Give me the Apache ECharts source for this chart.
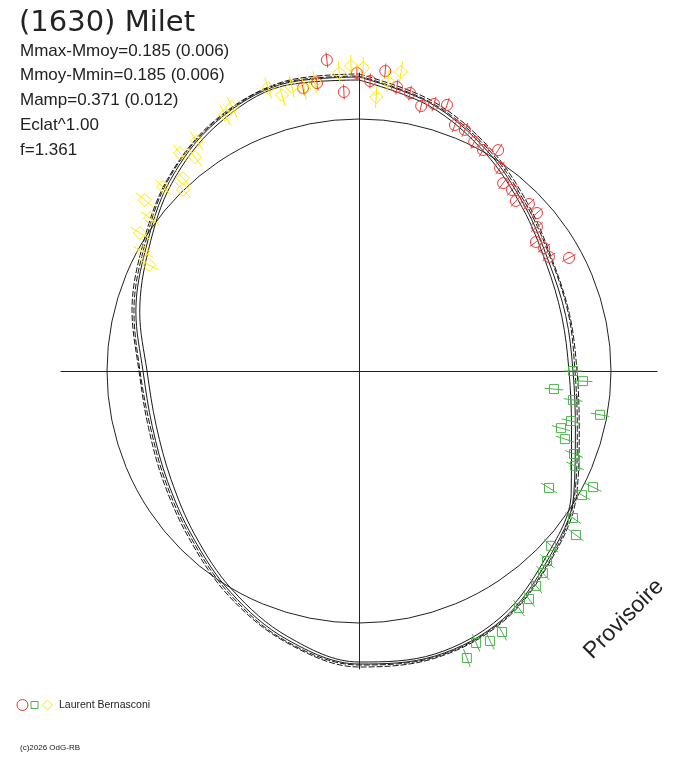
<!DOCTYPE html>
<html>
<head>
<meta charset="utf-8">
<title>(1630) Milet</title>
<script src="https://cdn.jsdelivr.net/npm/echarts@6.0.0/dist/echarts.min.js"></script>
<style>
	html, body { margin: 0; padding: 0; background: #fff; }
	#main { width: 688px; height: 768px; }
</style>
</head>
<body>
<div id="main"></div>
<script>
// angles in degrees, clockwise from the top (phase * 360)
const fitAngles = [0, 15, 30, 45, 60, 75, 90, 105, 120, 135, 150, 165, 180, 195, 210, 225, 240, 255, 270, 285, 300, 315, 330, 345]
// fitted curves, radius for each angle
const fitA = [294, 277, 255, 234, 219, 214, 214, 224, 248, 267, 287, 295, 293, 278, 256, 235, 221, 214, 216, 231, 246, 268, 287, 297]
const fitB = [297, 280, 259, 238, 223, 218, 218, 228, 251, 270, 289, 297, 296, 281, 260, 239, 225, 218, 220, 235, 250, 271, 289, 299]
const fitC = [291, 274, 252, 231, 216, 210, 210, 220, 245, 264, 284, 293, 291, 275, 253, 232, 217, 210, 212, 227, 243, 265, 284, 295]
const fitD = [295, 278, 257, 236, 222, 217, 216, 226, 249, 269, 288, 296, 294, 280, 258, 237, 223, 216, 219, 233, 248, 270, 288, 298]

// red circles
const redAngle = [348.8, 351.7, 354.1, 356.9, 359.6, 2.2, 5.0, 7.6, 10.4, 13.2, 15.7, 18.3, 21.3, 23.7, 26.7, 29.3, 32.2, 34.8, 37.5, 40.2, 42.7, 45.5, 48.4, 51.0, 53.9, 56.4, 59.0, 61.7]
const redR = [288.5, 291, 312.6, 279.4, 298, 290.2, 301.1, 286.5, 282.6, 272.2, 277.3, 280.2, 264, 263.3, 256.3, 253.4, 261, 247.2, 236.8, 237, 231.4, 238.3, 238, 229, 219, 222.2, 221.6, 238.5]
const redErr = 7.5

// green squares
const greenAngle = [90, 92.6, 95.3, 97.7, 100.3, 103.3, 105.8, 108.3, 111.1, 113.7, 116.4, 119.1, 121.6, 124.5, 127.1, 132.3, 135.3, 137.7, 140.5, 143.3, 146.0, 151.3, 154.1, 156.7, 159.4]
const greenR = [214, 224.2, 195.8, 216, 245, 217.8, 209.9, 216.9, 230.5, 236, 261.2, 255.2, 223.1, 259.6, 272, 259.8, 267.3, 273.2, 278.5, 284.4, 286, 297.6, 300.1, 296.1, 306.6]
const greenErr = 9.5

// yellow diamonds
const yellowAngle = [296.8, 298.9, 302.2, 306.2, 308.6, 313.2, 315.8, 317.6, 320.6, 322.5, 324.8, 332.4, 334.3, 342.2, 344.4, 346.7, 349.0, 351.3, 356.2, 358.5, 0.8, 3.6, 5.7, 8.0]
const yellowR = [235.2, 246.6, 258.9, 259, 274, 268.8, 252.5, 261.2, 282, 269.6, 281.3, 289, 293, 297.3, 286.5, 291.8, 287.3, 292.3, 298.7, 305.1, 303, 274.5, 291.4, 302]
const yellowErr = 11

const refRadius = 252
const outerRadius = 336
const statLines = ['Mmax-Mmoy=0.185 (0.006)', 'Mmoy-Mmin=0.185 (0.006)', 'Mamp=0.371 (0.012)', 'Eclat^1.00', 'f=1.361']

let myChart

function curveData(r) {
	let d = fitAngles.map((a, i) => [r[i], a])
	d.push([r[0], 360])
	return d
}

function pointData(ang, r, err) {
	return ang.map((a, i) => [r[i], a, err])
}

function curveSeries(r, dashed) {
	return {
		type: 'line',
		coordinateSystem: 'polar',
		polarIndex: 1,
		data: curveData(r),
		showSymbol: false,
		smooth: 0.35,
		clip: false,
		silent: true,
		z: 2,
		lineStyle: { color: '#1a1a1a', width: 1, type: dashed ? [6, 2] : 'solid' }
	}
}

// radial error bars
function errSeries(ang, r, err, color) {
	return {
		type: 'custom',
		coordinateSystem: 'polar',
		polarIndex: 1,
		data: pointData(ang, r, err),
		silent: true,
		z: 3,
		renderItem: function (params, api) {
			let rr = api.value(0), a = api.value(1), e = api.value(2)
			let p1 = api.coord([rr - e, a])
			let p2 = api.coord([rr + e, a])
			return {
				type: 'line',
				shape: { x1: p1[0], y1: p1[1], x2: p2[0], y2: p2[1] },
				style: { stroke: color, lineWidth: 1 }
			}
		}
	}
}

function markSeries(ang, r, symbol, size, color) {
	return {
		type: 'scatter',
		coordinateSystem: 'polar',
		polarIndex: 1,
		data: pointData(ang, r, 0),
		symbol: symbol,
		symbolSize: size,
		clip: false,
		silent: true,
		z: 4,
		itemStyle: { color: 'rgba(0,0,0,0)', borderColor: color, borderWidth: 1, opacity: 1 }
	}
}

function txt(x, y, text, font, extra) {
	let el = {
		type: 'text', x: x, y: y, z: 10,
		style: { text: text, font: font, fill: '#222', textVerticalAlign: 'middle', verticalAlign: 'middle' }
	}
	return Object.assign(el, extra || {})
}

const hiddenAxis = {
	axisLine: { show: false }, axisTick: { show: false }, axisLabel: { show: false },
	splitLine: { show: false }, splitArea: { show: false }
}

function init() {
	myChart = echarts.init(document.getElementById('main'), null, { renderer: 'canvas' })

	let graphics = [txt(19, 23, '(1630) Milet', '29px "DejaVu Sans"')]
	statLines.forEach((s, i) => graphics.push(txt(20, 51 + i * 24.8, s, '17px "Liberation Sans"')))

	// legend symbols + observer
	graphics.push({ type: 'circle', shape: { cx: 22.5, cy: 705, r: 5.5 }, style: { fill: 'none', stroke: '#e53535', lineWidth: 1 } })
	graphics.push({ type: 'rect', shape: { x: 31, y: 701.5, width: 7, height: 7 }, style: { fill: 'none', stroke: '#4cb34c', lineWidth: 1 } })
	graphics.push({ type: 'polygon', shape: { points: [[47.5, 700], [52.5, 705], [47.5, 710], [42.5, 705]] }, style: { fill: 'none', stroke: '#ffe800', lineWidth: 1 } })
	graphics.push(txt(59, 705, 'Laurent Bernasconi', '10.5px "Liberation Sans"'))
	graphics.push(txt(20, 748, '(c)2026 OdG-RB', '8px "Liberation Sans"'))

	let prov = txt(624, 619, 'Provisoire', '23px "Liberation Sans"', { rotation: 45 * Math.PI / 180 })
	prov.style.textAlign = 'center'
	prov.style.align = 'center'
	graphics.push(prov)

	let option = {
		animation: false,
		backgroundColor: '#fff',
		grid: { left: 61, top: 73, width: 596, height: 596 },
		xAxis: {
			type: 'value', min: -298, max: 298,
			axisLine: { show: true, onZero: true, lineStyle: { color: '#222', width: 1 } },
			axisTick: { show: false }, axisLabel: { show: false }, splitLine: { show: false }
		},
		yAxis: {
			type: 'value', min: -298, max: 298,
			axisLine: { show: true, onZero: true, lineStyle: { color: '#222', width: 1 } },
			axisTick: { show: false }, axisLabel: { show: false }, splitLine: { show: false }
		},
		// polar 0: reference circle only, polar 1: data
		polar: [
			{ center: [359, 371], radius: refRadius },
			{ center: [359, 371], radius: outerRadius }
		],
		angleAxis: [
			Object.assign({}, hiddenAxis, {
				polarIndex: 0, type: 'value', min: 0, max: 360, startAngle: 90, clockwise: true,
				axisLine: { show: true, lineStyle: { color: '#222', width: 1 } }
			}),
			Object.assign({}, hiddenAxis, {
				polarIndex: 1, type: 'value', min: 0, max: 360, startAngle: 90, clockwise: true
			})
		],
		radiusAxis: [
			Object.assign({}, hiddenAxis, { polarIndex: 0, type: 'value', min: 0, max: refRadius }),
			Object.assign({}, hiddenAxis, { polarIndex: 1, type: 'value', min: 0, max: outerRadius })
		],
		graphic: { elements: graphics },
		series: [
			curveSeries(fitA, false),
			curveSeries(fitB, true),
			curveSeries(fitC, false),
			curveSeries(fitD, true),
			errSeries(redAngle, redR, redErr, '#f03a3a'),
			errSeries(greenAngle, greenR, greenErr, '#4cb34c'),
			errSeries(yellowAngle, yellowR, yellowErr, '#ffe800'),
			markSeries(redAngle, redR, 'circle', 11, '#f03a3a'),
			markSeries(greenAngle, greenR, 'rect', 9, '#4cb34c'),
			markSeries(yellowAngle, yellowR, 'diamond', 13, '#ffe800')
		]
	}

	myChart.setOption(option)
}

init()
</script>
</body>
</html>
